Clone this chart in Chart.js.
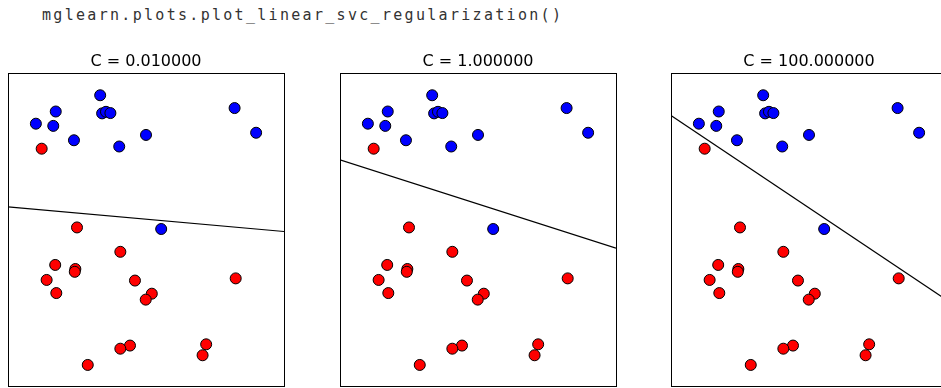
<!DOCTYPE html>
<html>
<head>
<meta charset="utf-8">
<script src="https://cdn.jsdelivr.net/npm/chart.js@4/dist/chart.umd.min.js"></script>
<style>
    html, body { margin: 0; padding: 0; background: #fff; overflow: hidden; }
    body { width: 941px; height: 388px; position: relative; }
    #code {
        position: absolute; left: 42px; top: 5px;
        font-family: "DejaVu Sans Mono", monospace; font-size: 15px; line-height: 20px;
        letter-spacing: 2.3px; color: #333; white-space: pre;
    }
    .panel { position: absolute; top: 40px; width: 300px; height: 353px; }
    .panel canvas { display: block; }
</style>
</head>
<body>
<div id="code">mglearn.plots.plot_linear_svc_regularization()</div>
<div class="panel" style="left:0px"><canvas id="svc0" width="300" height="353"></canvas></div>
<div class="panel" style="left:332px"><canvas id="svc1" width="300" height="353"></canvas></div>
<div class="panel" style="left:663px"><canvas id="svc2" width="300" height="353"></canvas></div>
<script>
// class 1 (blue) points
const blueX = [3.34, 1.73, 1.01, 1.64, 3.41, 3.55, 3.71, 2.39, 4.03, 5.00, 8.21, 8.99, 5.55];
const blueY = [9.32, 8.80, 8.41, 8.34, 8.74, 8.79, 8.75, 7.88, 7.68, 8.05, 8.91, 8.12, 5.04];

// class 0 (red) points
const redX = [1.22, 2.50, 4.07, 1.71, 2.44, 2.42, 1.40, 1.75, 4.60, 5.21, 4.99, 8.25, 4.42, 4.07, 7.18, 7.05, 2.89];
const redY = [7.61, 5.09, 4.31, 3.89, 3.76, 3.67, 3.41, 2.99, 3.39, 2.97, 2.78, 3.46, 1.31, 1.21, 1.35, 1.00, 0.69];

// regularization values and the decision boundary height at x = xMin / x = xMax
const cValues = [0.01, 1, 100];
const boundaryAtMin = [5.75, 7.25, 8.67];
const boundaryAtMax = [4.96, 4.43, 2.76];

const xMin = 0, xMax = 10, yMin = 0, yMax = 10;

const toPoints = (xs, ys) => xs.map((x, i) => ({ x: x, y: ys[i] }));

// black box around the plot area (matplotlib spines)
const frame = {
    id: 'frame',
    afterDraw(chart) {
        const { left, top, right, bottom } = chart.chartArea;
        const ctx = chart.ctx;
        ctx.save();
        ctx.strokeStyle = '#000';
        ctx.lineWidth = 1;
        ctx.strokeRect(Math.round(left) + 0.5, Math.round(top) - 0.5,
            Math.round(right) - Math.round(left), Math.round(bottom) - Math.round(top));
        ctx.restore();
    }
};

cValues.forEach((C, k) => {
    const ctx = document.getElementById('svc' + k).getContext('2d');
    new Chart(ctx, {
        type: 'scatter',
        data: {
            datasets: [
                {
                    label: 'boundary',
                    data: [{ x: xMin, y: boundaryAtMin[k] }, { x: xMax, y: boundaryAtMax[k] }],
                    showLine: true,
                    borderColor: '#000',
                    borderWidth: 1.2,
                    pointRadius: 0,
                    clip: 0,
                    order: 0
                },
                {
                    label: 'class 1',
                    data: toPoints(blueX, blueY),
                    backgroundColor: '#0000ff',
                    borderColor: '#000',
                    borderWidth: 1,
                    pointRadius: 5.5,
                    order: 1
                },
                {
                    label: 'class 0',
                    data: toPoints(redX, redY),
                    backgroundColor: '#ff0000',
                    borderColor: '#000',
                    borderWidth: 1,
                    pointRadius: 5.5,
                    order: 2
                }
            ]
        },
        options: {
            responsive: false,
            animation: false,
            events: [],
            layout: { padding: { left: 8, right: 16, top: 0, bottom: 1 } },
            scales: {
                x: { type: 'linear', min: xMin, max: xMax, display: false },
                y: { type: 'linear', min: yMin, max: yMax, display: false }
            },
            plugins: {
                legend: { display: false },
                tooltip: { enabled: false },
                title: {
                    display: true,
                    text: 'C = ' + C.toFixed(6),
                    color: '#000',
                    font: { family: 'DejaVu Sans', size: 16, weight: 'normal', lineHeight: 1.2 },
                    padding: { top: 12, bottom: 2.8 }
                }
            }
        },
        plugins: [frame]
    });
});
</script>
</body>
</html>
